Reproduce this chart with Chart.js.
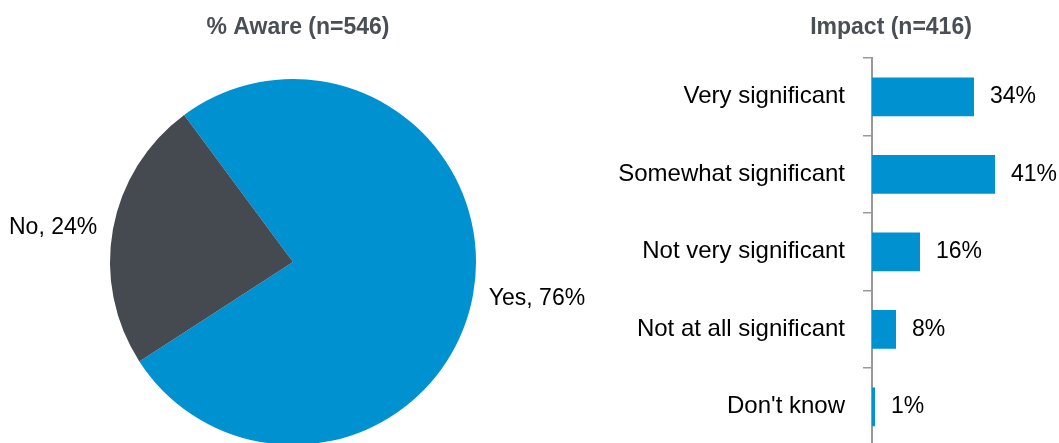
<!DOCTYPE html>
<html lang="en">
<head>
    <meta charset="UTF-8">
    <title>Awareness and Impact</title>
    <script src="https://cdn.jsdelivr.net/npm/chart.js"></script>
    <style>
        body {
            margin: 0;
            padding: 0;
            background: #ffffff;
            overflow: hidden;
            width: 1059px;
            height: 443px;
            position: relative;
        }
        #pieChart {
            position: absolute;
            left: 0;
            top: 0;
        }
        #barChart {
            position: absolute;
            left: 600px;
            top: 0;
        }
    </style>
</head>
<body>
    <canvas id="pieChart" width="600" height="450"></canvas>
    <canvas id="barChart" width="459" height="478"></canvas>

    <script>
        // Awareness pie
        const awareTitle = '% Aware (n=546)';
        const awareLabels = ['Yes', 'No'];
        const awareValues = [76, 24];

        // Impact bars
        const impactTitle = 'Impact (n=416)';
        const impactLabels = ['Very significant', 'Somewhat significant', 'Not very significant', 'Not at all significant', "Don't know"];
        const impactValues = [34, 41, 16, 8, 1];

        const BLUE = '#0091d1';
        const DARK = '#454a51';
        const TITLE_GREY = '#4a4f56';
        const FONT = '"Liberation Sans", Arial, sans-serif';

        Chart.defaults.font.family = FONT;
        Chart.defaults.animation = false;

        function drawTitle(chart, text, cx) {
            const ctx = chart.ctx;
            ctx.save();
            ctx.font = 'bold 23px ' + FONT;
            ctx.fillStyle = TITLE_GREY;
            ctx.textAlign = 'center';
            ctx.textBaseline = 'middle';
            ctx.fillText(text, cx, 28);
            ctx.restore();
        }

        // labels outside the pie slices
        const pieLabels = {
            id: 'pieLabels',
            afterDraw(chart) {
                const ctx = chart.ctx;
                const meta = chart.getDatasetMeta(0);
                ctx.save();
                ctx.font = '23px ' + FONT;
                ctx.fillStyle = '#000';
                ctx.textBaseline = 'middle';
                meta.data.forEach((arc, i) => {
                    const mid = (arc.startAngle + arc.endAngle) / 2;
                    const r = arc.outerRadius + 16;
                    const x = arc.x + Math.cos(mid) * r;
                    const y = arc.y + Math.sin(mid) * r;
                    ctx.textAlign = Math.cos(mid) < 0 ? 'right' : 'left';
                    ctx.fillText(awareLabels[i] + ', ' + awareValues[i] + '%', x, y + 1);
                });
                ctx.restore();
                drawTitle(chart, awareTitle, 298);
            }
        };

        // value labels at the end of the bars
        const barLabels = {
            id: 'barLabels',
            afterDraw(chart) {
                const ctx = chart.ctx;
                const meta = chart.getDatasetMeta(0);
                ctx.save();
                ctx.font = '23px ' + FONT;
                ctx.fillStyle = '#000';
                ctx.textAlign = 'left';
                ctx.textBaseline = 'middle';
                meta.data.forEach((bar, i) => {
                    ctx.fillText(impactValues[i] + '%', bar.x + 16, bar.y);
                });
                ctx.restore();
                drawTitle(chart, impactTitle, 291);
            }
        };

        new Chart(document.getElementById('pieChart'), {
            type: 'pie',
            data: {
                labels: awareLabels,
                datasets: [{
                    data: awareValues,
                    backgroundColor: [BLUE, DARK],
                    borderWidth: 0
                }]
            },
            options: {
                responsive: false,
                devicePixelRatio: 1,
                rotation: -36.5,
                layout: {
                    padding: { left: 110, right: 124, top: 79, bottom: 5 }
                },
                plugins: {
                    legend: { display: false },
                    tooltip: { enabled: false }
                }
            },
            plugins: [pieLabels]
        });

        new Chart(document.getElementById('barChart'), {
            type: 'bar',
            data: {
                labels: impactLabels,
                datasets: [{
                    data: impactValues,
                    backgroundColor: BLUE,
                    categoryPercentage: 1,
                    barPercentage: 0.5
                }]
            },
            options: {
                indexAxis: 'y',
                responsive: false,
                devicePixelRatio: 1,
                layout: {
                    padding: { left: 0, right: 37, top: 58, bottom: 4 }
                },
                scales: {
                    x: {
                        display: false,
                        min: 0,
                        max: 50
                    },
                    y: {
                        grid: {
                            drawOnChartArea: false,
                            drawTicks: true,
                            tickLength: 9,
                            color: '#999999',
                            lineWidth: 1.5
                        },
                        border: {
                            color: '#999999',
                            width: 2
                        },
                        ticks: {
                            color: '#000',
                            padding: 18,
                            font: { size: 24 }
                        },
                        afterFit(scale) {
                            scale.width = 272;
                        }
                    }
                },
                plugins: {
                    legend: { display: false },
                    tooltip: { enabled: false }
                }
            },
            plugins: [barLabels]
        });
    </script>
</body>
</html>
